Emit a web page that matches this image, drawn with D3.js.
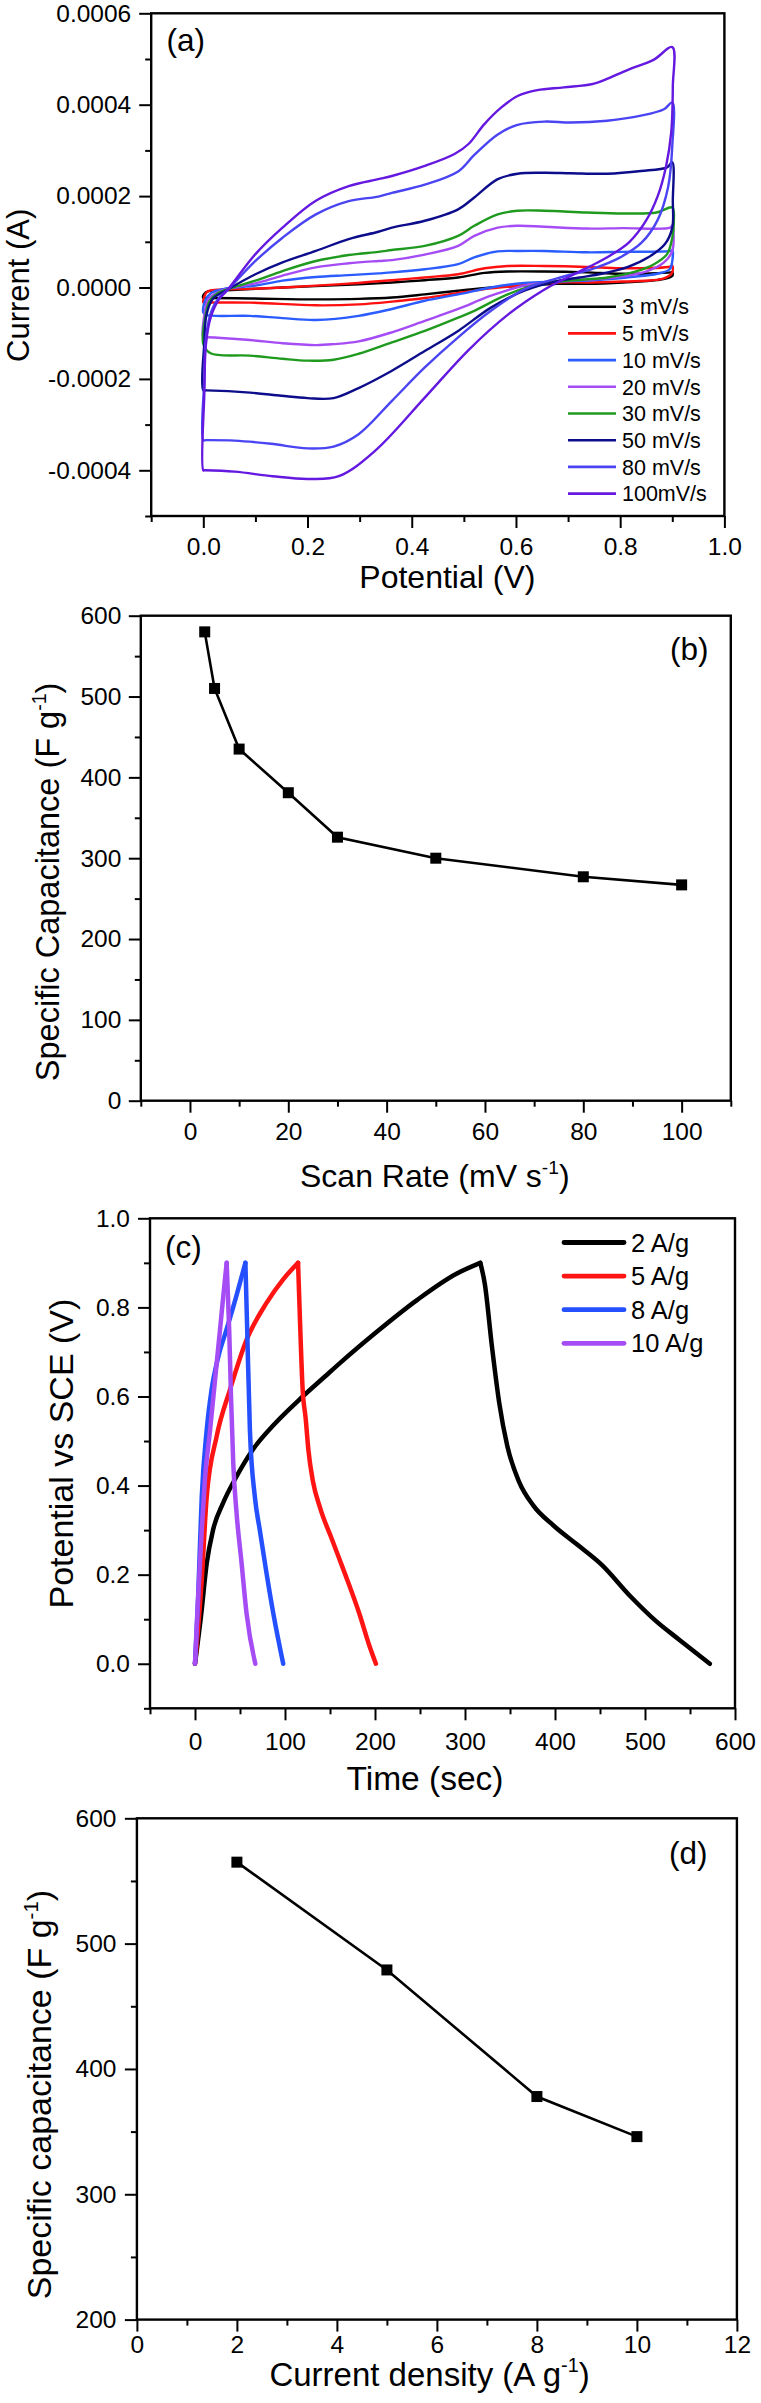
<!DOCTYPE html>
<html>
<head>
<meta charset="utf-8">
<script src="https://cdn.jsdelivr.net/npm/d3@7"></script>
<style>
  body { margin: 0; background: #fff; }
</style>
</head>
<body>
<div id="chart"></div>
<script>

const FONT = '"Liberation Sans", Arial, Helvetica, sans-serif'

////////////////////////////////////
//////// (a) CV loops //////////////
////////////////////////////////////

// potential (V), current in units of 1e-4 A ; anodic branch then cathodic branch
const cvLabels = ['3 mV/s', '5 mV/s', '10 mV/s', '20 mV/s', '30 mV/s', '50 mV/s', '80 mV/s', '100mV/s']
const cvColors = ['#000000', '#ff1010', '#2a5cff', '#a64cf5', '#1f9a1f', '#0d0d8c', '#4a44f2', '#6418e0']

const cv3 = [[0, -0.23], [0.001, -0.15], [0.01, -0.08], [0.045, -0.06], [0.152, 0.0], [0.298, 0.07], [0.362, 0.11], [0.425, 0.16], [0.489, 0.22], [0.54, 0.32], [0.584, 0.35], [0.654, 0.35], [0.736, 0.33], [0.8, 0.3], [0.897, 0.33], [0.9, 0.34],
    [0.9, 0.25], [0.87, 0.16], [0.805, 0.11], [0.735, 0.08], [0.679, 0.08], [0.616, 0.04], [0.552, 0.0], [0.489, -0.07], [0.425, -0.15], [0.362, -0.22], [0.298, -0.25], [0.216, -0.26], [0.089, -0.24], [0.005, -0.23]]

const cv5 = [[0, -0.33], [0.002, -0.2], [0.008, -0.09], [0.027, -0.05], [0.089, -0.03], [0.152, 0.0], [0.216, 0.04], [0.298, 0.1], [0.362, 0.16], [0.425, 0.22], [0.489, 0.29], [0.54, 0.42], [0.584, 0.47], [0.654, 0.47], [0.736, 0.45], [0.8, 0.42], [0.897, 0.46], [0.9, 0.48],
    [0.9, 0.33], [0.884, 0.2], [0.805, 0.13], [0.74, 0.11], [0.679, 0.11], [0.616, 0.05], [0.552, -0.02], [0.489, -0.12], [0.425, -0.23], [0.362, -0.31], [0.298, -0.37], [0.216, -0.39], [0.089, -0.33], [0.005, -0.33]]

const cv10 = [[0, -0.55], [0.003, -0.3], [0.015, -0.12], [0.04, -0.03], [0.1, 0.04], [0.152, 0.15], [0.216, 0.23], [0.279, 0.27], [0.336, 0.31], [0.362, 0.33], [0.425, 0.4], [0.489, 0.51], [0.52, 0.66], [0.565, 0.79], [0.603, 0.8], [0.654, 0.8], [0.736, 0.77], [0.805, 0.78], [0.897, 0.8], [0.9, 0.82],
    [0.9, 0.58], [0.895, 0.4], [0.871, 0.3], [0.82, 0.23], [0.762, 0.17], [0.679, 0.13], [0.616, 0.1], [0.552, 0.0], [0.489, -0.15], [0.425, -0.29], [0.362, -0.47], [0.298, -0.62], [0.216, -0.71], [0.152, -0.67], [0.089, -0.62], [0.005, -0.6]]

const cv20 = [[0, -1.09], [0.002, -0.6], [0.01, -0.25], [0.03, -0.09], [0.046, -0.03], [0.1, 0.09], [0.152, 0.26], [0.216, 0.44], [0.279, 0.53], [0.336, 0.58], [0.362, 0.6], [0.425, 0.72], [0.489, 0.91], [0.52, 1.13], [0.565, 1.31], [0.603, 1.35], [0.654, 1.33], [0.736, 1.29], [0.805, 1.3], [0.896, 1.31], [0.9, 1.36],
    [0.9, 0.8], [0.884, 0.55], [0.852, 0.36], [0.808, 0.25], [0.75, 0.18], [0.679, 0.14], [0.616, 0.04], [0.552, -0.18], [0.489, -0.47], [0.425, -0.73], [0.362, -0.98], [0.298, -1.18], [0.25, -1.24], [0.216, -1.26], [0.152, -1.22], [0.089, -1.15], [0.005, -1.09]]

const cv30 = [[0, -1.24], [0.003, -0.7], [0.012, -0.3], [0.028, -0.12], [0.046, -0.04], [0.1, 0.15], [0.152, 0.36], [0.216, 0.58], [0.279, 0.71], [0.336, 0.78], [0.362, 0.82], [0.425, 0.91], [0.489, 1.13], [0.52, 1.35], [0.565, 1.6], [0.603, 1.68], [0.654, 1.68], [0.736, 1.64], [0.805, 1.62], [0.87, 1.64], [0.9, 1.75],
    [0.903, 1.46], [0.9, 1.09], [0.89, 0.73], [0.865, 0.51], [0.827, 0.34], [0.776, 0.22], [0.725, 0.17], [0.654, 0.1], [0.584, -0.15], [0.52, -0.51], [0.489, -0.66], [0.425, -0.95], [0.362, -1.2], [0.298, -1.45], [0.25, -1.58], [0.2, -1.6], [0.152, -1.56], [0.089, -1.49], [0.014, -1.44]]

const cv50 = [[0, -2.25], [0.002, -1.2], [0.006, -0.6], [0.018, -0.25], [0.046, -0.05], [0.1, 0.29], [0.152, 0.55], [0.216, 0.8], [0.279, 1.06], [0.336, 1.22], [0.362, 1.31], [0.425, 1.46], [0.489, 1.71], [0.52, 1.97], [0.565, 2.37], [0.603, 2.49], [0.654, 2.51], [0.705, 2.5], [0.775, 2.49], [0.84, 2.55], [0.89, 2.63], [0.9, 2.74],
    [0.901, 1.9], [0.9, 1.31], [0.886, 0.95], [0.854, 0.66], [0.815, 0.45], [0.765, 0.3], [0.722, 0.22], [0.679, 0.14], [0.616, -0.07], [0.552, -0.44], [0.489, -0.95], [0.425, -1.39], [0.362, -1.82], [0.298, -2.2], [0.25, -2.42], [0.2, -2.42], [0.15, -2.37], [0.09, -2.3], [0.006, -2.25]]

const cv80 = [[0, -3.34], [0.002, -2.0], [0.005, -1.1], [0.016, -0.5], [0.032, -0.2], [0.046, -0.06], [0.1, 0.58], [0.152, 1.09], [0.216, 1.6], [0.279, 1.89], [0.336, 1.99], [0.362, 2.07], [0.425, 2.25], [0.489, 2.54], [0.52, 2.9], [0.565, 3.35], [0.603, 3.56], [0.654, 3.63], [0.705, 3.61], [0.775, 3.65], [0.84, 3.76], [0.884, 3.9], [0.9, 4.05],
    [0.9, 3.1], [0.892, 2.2], [0.872, 1.48], [0.841, 0.98], [0.8, 0.66], [0.75, 0.42], [0.679, 0.2], [0.616, -0.04], [0.552, -0.51], [0.489, -1.09], [0.425, -1.75], [0.362, -2.48], [0.298, -3.21], [0.25, -3.48], [0.2, -3.52], [0.13, -3.42], [0.06, -3.35], [0.005, -3.34]]

const cv100 = [[0, -4.0], [0.002, -2.3], [0.005, -1.25], [0.014, -0.66], [0.03, -0.26], [0.046, -0.06], [0.1, 0.73], [0.152, 1.31], [0.216, 1.9], [0.279, 2.22], [0.336, 2.37], [0.362, 2.44], [0.425, 2.66], [0.482, 2.92], [0.509, 3.14], [0.539, 3.57], [0.572, 3.94], [0.603, 4.19], [0.641, 4.32], [0.692, 4.38], [0.75, 4.46], [0.816, 4.77], [0.864, 4.98], [0.9, 5.26],
    [0.901, 4.4], [0.898, 3.4], [0.888, 2.65], [0.872, 2.0], [0.849, 1.45], [0.818, 1.0], [0.781, 0.7], [0.74, 0.45], [0.692, 0.18], [0.654, -0.05], [0.584, -0.6], [0.508, -1.38], [0.425, -2.41], [0.33, -3.57], [0.26, -4.13], [0.2, -4.19], [0.133, -4.13], [0.06, -4.03], [0.003, -4.0]]

const cvLoops = [cv3, cv5, cv10, cv20, cv30, cv50, cv80, cv100]

const cvXTicks = [0, 0.2, 0.4, 0.6, 0.8, 1.0]
const cvXMinor = [-0.1, 0.1, 0.3, 0.5, 0.7, 0.9]
const cvYTicks = [-4, -2, 0, 2, 4, 6]
const cvYMinor = [-5, -3, -1, 1, 3, 5]

////////////////////////////////////
//////// (b) capacitance vs scan rate
////////////////////////////////////

const scanRate = [3, 5, 10, 20, 30, 50, 80, 100]
const capScan = [580, 510, 435, 381, 326, 300, 277, 267]

const bXTicks = [0, 20, 40, 60, 80, 100]
const bXMinor = [-10, 10, 30, 50, 70, 90, 110]
const bYTicks = [0, 100, 200, 300, 400, 500, 600]
const bYMinor = [50, 150, 250, 350, 450, 550]

////////////////////////////////////
//////// (c) charge / discharge ////
////////////////////////////////////

// [time (s), potential (V)]
const gcdLabels = ['2 A/g', '5 A/g', '8 A/g', '10 A/g']
const gcdColors = ['#000000', '#ff1414', '#2450ff', '#a64cf5']

const gcd2 = [[0, 0], [7, 0.113], [13, 0.225], [20, 0.3], [31, 0.36], [46, 0.42], [64, 0.48], [86, 0.533], [116, 0.593], [145, 0.646], [161, 0.675], [200, 0.742], [247, 0.817], [290, 0.875], [317, 0.9],
    [322, 0.853], [330, 0.711], [338, 0.586], [347, 0.489], [360, 0.409], [376, 0.355], [398, 0.311], [425, 0.267], [452, 0.222], [484, 0.151], [511, 0.098], [538, 0.054], [572, 0]]

const gcd5 = [[0, 0], [7.5, 0.188], [13, 0.375], [24, 0.51], [39, 0.616], [57.5, 0.728], [79.5, 0.81], [98, 0.863], [114.5, 0.9],
    [117, 0.75], [119.5, 0.62], [123, 0.55], [126, 0.48], [131, 0.41], [139, 0.35], [152, 0.28], [167, 0.2], [183, 0.11], [193, 0.045], [201, 0]]

const gcd8 = [[0, 0], [3.5, 0.15], [7.5, 0.375], [13, 0.525], [18.5, 0.616], [26, 0.69], [35, 0.75], [46, 0.826], [56, 0.9],
    [58, 0.75], [61, 0.525], [66.5, 0.375], [72, 0.3], [79.5, 0.203], [87, 0.113], [98, 0]]

const gcd10 = [[0, 0], [3.5, 0.15], [7.5, 0.3], [11, 0.413], [16.8, 0.525], [22.3, 0.638], [27.8, 0.75], [33.3, 0.863], [35.2, 0.9],
    [38, 0.75], [40, 0.6], [42.5, 0.45], [46.2, 0.338], [51.8, 0.225], [57.3, 0.113], [67, 0]]

const gcdCurves = [gcd2, gcd5, gcd8, gcd10]

const cXTicks = [0, 100, 200, 300, 400, 500, 600]
const cXMinor = [-50, 50, 150, 250, 350, 450, 550]
const cYTicks = [0, 0.2, 0.4, 0.6, 0.8, 1.0]
const cYMinor = [-0.1, 0.1, 0.3, 0.5, 0.7, 0.9]

////////////////////////////////////
//////// (d) capacitance vs current density
////////////////////////////////////

const currentDensity = [2, 5, 8, 10]
const capCurrent = [565, 479, 378, 346]

const dXTicks = [0, 2, 4, 6, 8, 10, 12]
const dXMinor = [1, 3, 5, 7, 9, 11]
const dYTicks = [200, 300, 400, 500, 600]
const dYMinor = [250, 350, 450, 550]

////////////////////////////////////
////////////// svg /////////////////
////////////////////////////////////

const svgWidth = 761
const svgHeight = 2403

const svg = d3.select('#chart')
    .append('svg')
    .attr('width', svgWidth)
    .attr('height', svgHeight)
    .attr('font-family', FONT)

// boxed panel, ticks outside on left and bottom only
function panel(p) {
    const x = d3.scaleLinear().domain(p.xDomain).range([p.left, p.right])
    const y = d3.scaleLinear().domain(p.yDomain).range([p.bottom, p.top])
    const g = svg.append('g')

    g.append('g')
        .attr('transform', `translate(0,${p.bottom})`)
        .call(d3.axisBottom(x).tickValues(p.xMinor).tickSize(6).tickFormat('').tickSizeOuter(0))
    g.append('g')
        .attr('transform', `translate(${p.left},0)`)
        .call(d3.axisLeft(y).tickValues(p.yMinor).tickSize(6).tickFormat('').tickSizeOuter(0))

    g.append('g')
        .attr('transform', `translate(0,${p.bottom})`)
        .call(d3.axisBottom(x).tickValues(p.xTicks).tickSize(12).tickPadding(p.xPad).tickFormat(p.xFormat).tickSizeOuter(0))
    g.append('g')
        .attr('transform', `translate(${p.left},0)`)
        .call(d3.axisLeft(y).tickValues(p.yTicks).tickSize(12).tickPadding(p.yPad).tickFormat(p.yFormat).tickSizeOuter(0))

    g.selectAll('.domain').remove()
    g.selectAll('g').attr('font-family', FONT).attr('font-size', 24.5)
    g.selectAll('.tick line').attr('stroke', '#000').attr('stroke-width', 2)
    g.selectAll('.tick text').attr('fill', '#000')

    g.append('rect')
        .attr('x', p.left)
        .attr('y', p.top)
        .attr('width', p.right - p.left)
        .attr('height', p.bottom - p.top)
        .attr('fill', 'none')
        .attr('stroke', '#000')
        .attr('stroke-width', 2.4)

    return { g, x, y }
}

// axis title, optional superscript "-1"
function title(x, y, size, text, sup, tail, rotate) {
    const t = svg.append('text')
        .attr('text-anchor', rotate ? 'middle' : 'start')
        .attr('font-size', size)
        .attr('fill', '#000')
        .attr('transform', rotate ? `translate(${x},${y}) rotate(-90)` : `translate(${x},${y})`)
    t.append('tspan').text(text)
    if (sup) {
        t.append('tspan').text(sup).attr('font-size', size * 0.6).attr('dy', -size * 0.4)
        t.append('tspan').text(tail).attr('dy', size * 0.4)
    }
    return t
}

function tag(x, y, text) {
    svg.append('text')
        .attr('x', x).attr('y', y)
        .attr('font-size', 31.5)
        .attr('fill', '#000')
        .text(text)
}

////////////////////////////////////
////////////// (a) /////////////////
////////////////////////////////////

const A = panel({
    left: 151.2, right: 724.4, top: 13.3, bottom: 516,
    xDomain: [-0.1, 1.0], yDomain: [-5, 6],
    xTicks: cvXTicks, xMinor: cvXMinor, yTicks: cvYTicks, yMinor: cvYMinor,
    xFormat: d => d.toFixed(1), yFormat: d => (d * 1e-4).toFixed(4),
    xPad: 10, yPad: 8
})

const cvLine = d3.line()
    .x(d => A.x(d[0]))
    .y(d => A.y(d[1]))
    .curve(d3.curveCatmullRomClosed.alpha(0.5))

A.g.append('g')
    .selectAll('path')
    .data(cvLoops)
    .join('path')
    .attr('d', d => cvLine(d))
    .attr('fill', 'none')
    .attr('stroke', (d, i) => cvColors[i])
    .attr('stroke-width', 2.4)
    .attr('stroke-linejoin', 'round')

const legA = A.g.append('g')
    .selectAll('g')
    .data(cvLabels)
    .join('g')
    .attr('transform', (d, i) => `translate(568,${306.7 + i * 26.7})`)
legA.append('line')
    .attr('x1', 0).attr('x2', 48)
    .attr('stroke', (d, i) => cvColors[i])
    .attr('stroke-width', 2.6)
legA.append('text')
    .attr('x', 54).attr('dy', '0.36em')
    .attr('font-size', 21.5)
    .text(d => d)

tag(166.5, 50.6, '(a)')
title(359.3, 588.3, 32, 'Potential (V)')
title(29, 285.3, 31, 'Current (A)', null, null, true)

////////////////////////////////////
////////////// (b) /////////////////
////////////////////////////////////

const B = panel({
    left: 140.8, right: 730.8, top: 615.7, bottom: 1100.7,
    xDomain: [-10, 110], yDomain: [0, 600],
    xTicks: bXTicks, xMinor: bXMinor, yTicks: bYTicks, yMinor: bYMinor,
    xFormat: d => d, yFormat: d => d,
    xPad: 10, yPad: 7.5
})

const bData = scanRate.map((d, i) => [d, capScan[i]])

B.g.append('path')
    .attr('d', d3.line().x(d => B.x(d[0])).y(d => B.y(d[1]))(bData))
    .attr('fill', 'none')
    .attr('stroke', '#000')
    .attr('stroke-width', 2.6)

B.g.append('g')
    .selectAll('rect')
    .data(bData)
    .join('rect')
    .attr('x', d => B.x(d[0]) - 5.5)
    .attr('y', d => B.y(d[1]) - 5.5)
    .attr('width', 11)
    .attr('height', 11)
    .attr('fill', '#000')

tag(670, 660.3, '(b)')
title(300, 1186.7, 32, 'Scan Rate (mV s', '-1', ')')
title(58.7, 881.9, 32.5, 'Specific Capacitance (F g', '-1', ')', true)

////////////////////////////////////
////////////// (c) /////////////////
////////////////////////////////////

const C = panel({
    left: 150, right: 735, top: 1218.3, bottom: 1708.3,
    xDomain: [-50, 600], yDomain: [-0.1, 1.0],
    xTicks: cXTicks, xMinor: cXMinor, yTicks: cYTicks, yMinor: cYMinor,
    xFormat: d => d, yFormat: d => d.toFixed(1),
    xPad: 12.5, yPad: 8
})

const gcdLine = d3.line()
    .x(d => C.x(d[0]))
    .y(d => C.y(d[1]))
    .curve(d3.curveMonotoneX)

// charge and discharge drawn as two paths so the peak stays sharp
gcdCurves.forEach((c, i) => {
    const peak = d3.maxIndex(c, d => d[1])
    const parts = [c.slice(0, peak + 1), c.slice(peak)]
    C.g.append('g')
        .selectAll('path')
        .data(parts)
        .join('path')
        .attr('d', d => gcdLine(d))
        .attr('fill', 'none')
        .attr('stroke', gcdColors[i])
        .attr('stroke-width', 4.5)
        .attr('stroke-linecap', 'round')
})

const legC = C.g.append('g')
    .selectAll('g')
    .data(gcdLabels)
    .join('g')
    .attr('transform', (d, i) => `translate(564,${1242.5 + i * 33.6})`)
legC.append('line')
    .attr('x1', 0).attr('x2', 60)
    .attr('stroke', (d, i) => gcdColors[i])
    .attr('stroke-width', 4.8)
    .attr('stroke-linecap', 'round')
legC.append('text')
    .attr('x', 67).attr('dy', '0.36em')
    .attr('font-size', 25.5)
    .text(d => d)

tag(165, 1258.4, '(c)')
title(346.5, 1790, 33.5, 'Time (sec)')
title(73, 1453.6, 34, 'Potential vs SCE (V)', null, null, true)

////////////////////////////////////
////////////// (d) /////////////////
////////////////////////////////////

const D = panel({
    left: 136.9, right: 736.9, top: 1818.3, bottom: 2319.6,
    xDomain: [0, 12], yDomain: [200, 600],
    xTicks: dXTicks, xMinor: dXMinor, yTicks: dYTicks, yMinor: dYMinor,
    xFormat: d => d, yFormat: d => d,
    xPad: 3.8, yPad: 8.4
})

const dData = currentDensity.map((d, i) => [d, capCurrent[i]])

D.g.append('path')
    .attr('d', d3.line().x(d => D.x(d[0])).y(d => D.y(d[1]))(dData))
    .attr('fill', 'none')
    .attr('stroke', '#000')
    .attr('stroke-width', 2.6)

D.g.append('g')
    .selectAll('rect')
    .data(dData)
    .join('rect')
    .attr('x', d => D.x(d[0]) - 5.5)
    .attr('y', d => D.y(d[1]) - 5.5)
    .attr('width', 11)
    .attr('height', 11)
    .attr('fill', '#000')

tag(669, 1863.6, '(d)')
title(269.4, 2385.5, 33, 'Current density (A g', '-1', ')')
title(51.2, 2094.6, 34, 'Specific capacitance (F g', '-1', ')', true)

</script>
</body>
</html>
